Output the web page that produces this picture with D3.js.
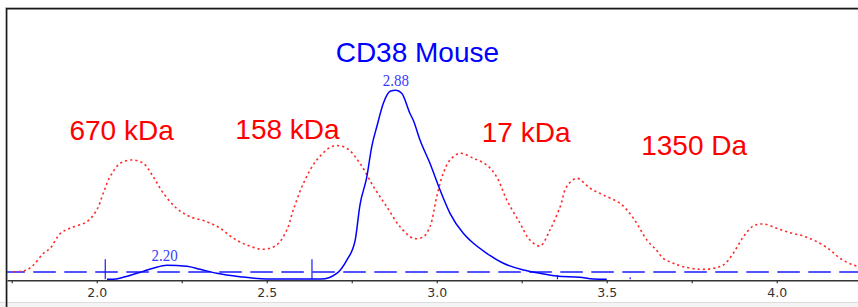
<!DOCTYPE html>
<html>
<head>
<meta charset="utf-8">
<script src="https://cdn.jsdelivr.net/npm/d3@7"></script>
<style>
  body { margin: 0; background: #fff; }
  svg { display: block; }
</style>
</head>
<body>
<script>
// retention time (min) / signal
const sampleTime = [2.03, 2.048, 2.078, 2.118, 2.166, 2.206, 2.265, 2.304, 2.353, 2.421, 2.5, 2.66, 2.706, 2.735, 2.76,
  2.774, 2.794, 2.809, 2.824, 2.843, 2.863, 2.88, 2.897, 2.921, 2.931, 2.951, 2.98, 3.01, 3.039, 3.078, 3.098,
  3.147, 3.196, 3.255, 3.304, 3.353, 3.421, 3.461, 3.5]
const sampleSignal = [0, 0, 2, 6, 11, 14, 13, 10, 6, 2.6, 0.3, 0.3, 6, 19, 39,
  74, 102, 133, 153, 176, 188, 189, 186, 166, 159, 139, 116, 89, 66, 46, 39,
  26, 16, 9.3, 6, 3.3, 2, 0.3, 0]

const stdTime = [1.755, 1.774, 1.794, 1.814, 1.843, 1.863, 1.893, 1.921, 1.971, 2.0, 2.019, 2.039, 2.069, 2.103, 2.137,
  2.166, 2.196, 2.235, 2.274, 2.324, 2.363, 2.402, 2.441, 2.49, 2.529, 2.559, 2.578, 2.608, 2.647, 2.696, 2.735,
  2.774, 2.814, 2.853, 2.892, 2.931, 2.961, 2.98, 3.0, 3.019, 3.039, 3.068, 3.108, 3.147, 3.176, 3.206, 3.245,
  3.274, 3.304, 3.333, 3.363, 3.382, 3.412, 3.451, 3.49, 3.539, 3.578, 3.618, 3.647, 3.666, 3.696, 3.725, 3.774,
  3.814, 3.843, 3.872, 3.902, 3.931, 3.961, 4.0, 4.039, 4.078, 4.118, 4.157, 4.186, 4.225, 4.251]
const stdSignal = [7.5, 7.8, 9.3, 14.3, 26, 31, 46, 51, 57.6, 69.3, 86, 102.6, 116, 119.3, 116,
  102.6, 86, 71, 62.6, 57.6, 51, 41, 34.3, 30, 34.3, 49.3, 69.3, 96, 119.3, 133.3, 131,
  116, 92.6, 72.6, 52.6, 41, 42.6, 52.6, 82.6, 106, 119.3, 126, 121, 114.3, 102.6, 79.3, 56,
  39.3, 33.3, 49.3, 72.6, 92.6, 101, 91, 84.3, 76, 61.3, 39.3, 28.8, 21, 16, 12.6, 10,
  11, 14.3, 26, 42.6, 53.3, 55.3, 51, 46.6, 43.3, 37.6, 29.3, 21, 14.3, 12.3]

const tickValues = [1.75, 2.0, 2.25, 2.5, 2.75, 3.0, 3.25, 3.5, 3.75, 4.0]
const tickLabels = ["", "2.0", "", "2.5", "", "3.0", "", "3.5", "", "4.0"]

const peakTimes = [2.20, 2.88]
const peakLabels = ["2.20", "2.88"]
const peakSignal = [14, 189]

// integration markers: time, height
const markerTimes = [2.025, 2.633, 3.355, 3.569]
const markerHeights = [20, 20, 4, 2]

const baselineLevel = 7.3

// standards annotations: name, time of label centre, signal level of label baseline
const standardNames = ["670 kDa", "158 kDa", "17 kDa", "1350 Da"]
const standardTimes = [2.073, 2.561, 3.263, 3.757]
const standardLevels = [139.3, 140.3, 137.6, 124.3]

const title = "CD38 Mouse"
const titleTime = 2.943
const titleLevel = 217.3

function render() {
  const w = 858
  const h = 307
  const left = 7
  const axisY = 280.3

  const xScale = d3.scaleLinear()
    .domain([1.736, 4.239])
    .range([left, w])

  const yScale = d3.scaleLinear()
    .domain([0, 200])
    .range([279.3, 79.3])

  const svg = d3.select("body")
    .append("svg")
    .attr("width", w)
    .attr("height", h)

  // frame
  svg.append("rect").attr("x", 0).attr("y", 302).attr("width", w).attr("height", 5).attr("fill", "#f4f4f4")
  svg.append("line").attr("x1", 0).attr("x2", w).attr("y1", 302.5).attr("y2", 302.5).attr("stroke", "#ddd")
  svg.append("path")
    .attr("d", `M5.5,${h} V7.5 H${w}`)
    .attr("fill", "none").attr("stroke", "#b8b8b8").attr("stroke-width", 1)
  svg.append("path")
    .attr("d", `M6.7,${h} V8.7 H${w}`)
    .attr("fill", "none").attr("stroke", "#1a1a1a").attr("stroke-width", 1.4)

  // dashed baseline
  svg.append("line")
    .attr("x1", left).attr("x2", w)
    .attr("y1", yScale(baselineLevel)).attr("y2", yScale(baselineLevel))
    .attr("stroke", "#1a1aff")
    .attr("stroke-width", 1.6)
    .attr("stroke-dasharray", "22.5,8.5")
    .attr("stroke-dashoffset", 4.7)

  // x axis
  const xAxis = d3.axisBottom(xScale)
    .tickValues(tickValues)
    .tickFormat((d, i) => tickLabels[i])
    .tickSizeInner(3)
    .tickSizeOuter(0)
    .tickPadding(5)

  const gx = svg.append("g")
    .attr("transform", "translate(0," + axisY + ")")
    .call(xAxis)
  gx.select(".domain").attr("stroke", "#333").attr("stroke-width", 1.5)
  gx.selectAll(".tick line").attr("stroke", "#333").attr("stroke-width", 1.2)
  gx.selectAll(".tick text")
    .attr("fill", "#333")
    .style("font-family", "'DejaVu Sans', sans-serif")
    .style("font-size", "12.5px")

  // standards trace (dotted red)
  const std = stdTime.map((t, i) => ({ t: t, v: stdSignal[i] }))
  svg.append("path")
    .datum(std)
    .attr("fill", "none")
    .attr("stroke", "#ff2a2a")
    .attr("stroke-width", 1.6)
    .attr("stroke-dasharray", "2.2,3")
    .attr("d", d3.line().x(d => xScale(d.t)).y(d => yScale(d.v)).curve(d3.curveCatmullRom))

  // markers
  svg.selectAll(".marker")
    .data(markerTimes)
    .enter()
    .append("line")
    .attr("class", "marker")
    .attr("x1", d => xScale(d)).attr("x2", d => xScale(d))
    .attr("y1", yScale(0)).attr("y2", (d, i) => yScale(markerHeights[i]))
    .attr("stroke", "#1a1aff")
    .attr("stroke-width", 1.2)

  // sample trace (blue)
  const sample = sampleTime.map((t, i) => ({ t: t, v: sampleSignal[i] }))
  svg.append("path")
    .datum(sample)
    .attr("fill", "none")
    .attr("stroke", "#0000ff")
    .attr("stroke-width", 1.5)
    .attr("d", d3.line().x(d => xScale(d.t)).y(d => yScale(d.v)).curve(d3.curveMonotoneX))

  // peak labels
  svg.selectAll(".peak")
    .data(peakLabels)
    .enter()
    .append("text")
    .attr("class", "peak")
    .attr("x", (d, i) => xScale(peakTimes[i]))
    .attr("y", (d, i) => yScale(peakSignal[i]) - 4)
    .attr("text-anchor", "middle")
    .attr("fill", "#3b3bff")
    .style("font-family", "'Liberation Serif', serif")
    .style("font-size", "15px")
    .attr("transform", (d, i) => {
      const x = xScale(peakTimes[i]), y = yScale(peakSignal[i]) - 4
      return `translate(${x},${y}) scale(1,1.15) translate(${-x},${-y})`
    })
    .text(d => d)

  // standard names
  svg.selectAll(".std")
    .data(standardNames)
    .enter()
    .append("text")
    .attr("class", "std")
    .attr("x", (d, i) => xScale(standardTimes[i]))
    .attr("y", (d, i) => yScale(standardLevels[i]))
    .attr("text-anchor", "middle")
    .attr("fill", "#ff0000")
    .style("font-family", "'Liberation Sans', Arial, sans-serif")
    .style("font-size", "28px")
    .text(d => d)

  svg.append("text")
    .attr("x", xScale(titleTime))
    .attr("y", yScale(titleLevel))
    .attr("text-anchor", "middle")
    .attr("fill", "#0000ff")
    .style("font-family", "'Liberation Sans', Arial, sans-serif")
    .style("font-size", "28px")
    .text(title)
}

render()
</script>
</body>
</html>
